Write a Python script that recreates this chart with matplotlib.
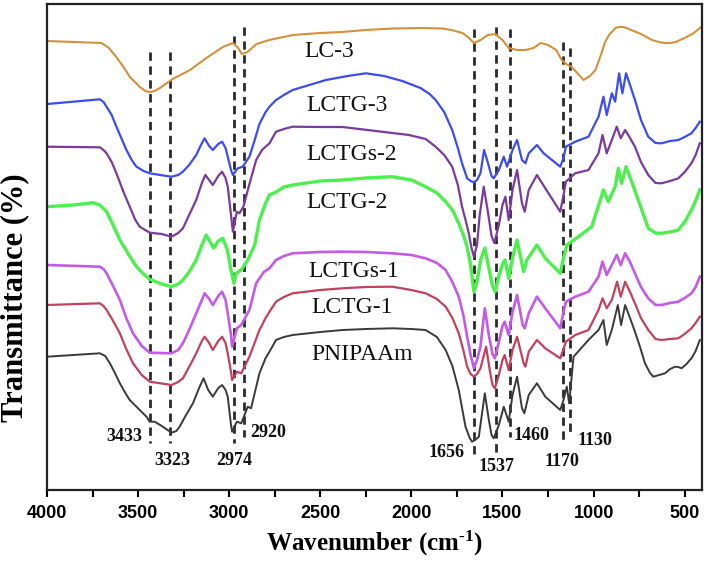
import matplotlib
matplotlib.use("Agg")
import matplotlib.pyplot as plt

# ---------------- data (offset transmittance, arbitrary units; larger = lower on chart) ----
lc3_w = [4000,3850,3700,3660,3620,3580,3545,3490,3460,3435,3410,3380,3310,3215,3125,3035,2980,2955,
         2930,2900,2850,2780,2650,2500,2380,2250,2100,1950,1830,1780,1720,1690,1657,1620,1580,1540,
         1500,1466,1420,1374,1330,1290,1250,1205,1175,1150,1120,1085,1055,1020,990,960,937,915,
         900,880,860,840,820,780,740,710,680,640,610,580,550,500,470,450,430,410]
lc3_y = [41,42,43,48,57,67,77,87,91,92,91,88,79,70,58,47,43,47,
         54,52,44,40,35,33,32,30,28.5,28,28.5,30,33,37,43,40,35,34,
         40,48,50,50,48,43,45,50,60,64,67,74,80,76,70,55,42,35,
         32,28,27,27,28,31,34,37,40,42,43,43,42,38,35,33,30,27]

lctg3_w = [4000,3856,3710,3690,3673,3645,3619,3590,3564,3535,3509,3470,3436,3380,3317,3280,3254,
           3220,3181,3155,3135,3110,3090,3060,3039,3020,3008,2990,2980,2953,2926,2889,2860,2834,
           2800,2779,2743,2700,2652,2560,2469,2350,2250,2150,2050,1950,1900,1867,1820,1776,1745,
           1722,1694,1675,1657,1640,1621,1601,1580,1560,1548,1520,1493,1475,1445,1420,1393,1374,
           1356,1311,1274,1183,1165,1152,1101,1028,973,946,928,900,882,860,842,822,800,773,740,
           700,660,627,580,535,500,463,440,417]
lctg3_y = [104,101.7,99.3,102,106.7,115,126.7,139,150,160,166.7,171,173.3,175,176.7,175,171.7,
           165,155,145,138.3,146,150,144,141.7,148,156.7,170,175,168.3,166.7,156.7,140,124,
           112,106.7,100,95,90,85,80,76,73.3,76,81,88,94,100,112,130,148,
           163.3,178.3,181,182.3,180,173.3,150,163,176,178.3,170,156.7,166.7,150,140,160,163.3,
           153.3,145,153.3,166.7,158,146.7,141.7,136.7,116.7,96.7,115,93.3,101.7,73.3,93.3,73.3,85,100,120,
           136.7,143,143.3,141,140,137,133.3,128,121.7]

lctgs2_w = [4000,3710,3690,3673,3645,3619,3580,3546,3515,3491,3436,3370,3317,3280,3254,3220,3181,
            3150,3131,3110,3090,3060,3039,3020,3008,2990,2980,2958,2944,2922,2893,2852,2820,2779,
            2743,2700,2652,2500,2378,2195,2013,1922,1867,1820,1776,1745,1722,1700,1685,1670,1657,
            1640,1625,1603,1580,1560,1545,1520,1500,1484,1466,1445,1420,1393,1378,1356,1311,1265,
            1183,1165,1152,1101,1028,973,951,928,900,873,851,827,800,773,740,700,660,627,580,535,
            500,463,440,417]
lctgs2_y = [146.7,147.3,150,153.3,162,173.3,192,206.7,220,226.7,232.7,234,236.7,233,228.3,215,200,
            183,175,180,185,176,171.7,178,186.7,215,231.7,211.7,213.3,206.7,186.7,160,150,143.3,
            131.7,129,126.7,127,127,131,135,139,146.7,155,166.7,185,206.7,222,233.3,248,256.7,
            245,215,186.7,212,236,243,225,205,196.7,220,190,170,203.3,211.7,190,175,188.3,
            211.7,195,181.7,173.3,170,153.3,135,153.3,140,126.7,138.3,130,138,146.7,162,175,183,183.3,181,178.3,
            172,163.3,155,143.3]

lctg2_w = [4000,3856,3747,3710,3673,3640,3600,3550,3509,3470,3436,3370,3317,3280,3254,3220,3181,
           3150,3126,3105,3085,3060,3035,3010,2990,2974,2962,2934,2898,2860,2834,2800,2779,2743,
           2700,2652,2500,2378,2250,2105,2000,1922,1860,1812,1775,1740,1715,1694,1675,1657,1640,
           1620,1597,1575,1555,1540,1520,1500,1486,1466,1445,1420,1384,1366,1311,1265,1183,1165,
           1147,1083,1010,946,919,882,864,846,822,790,755,720,700,660,627,580,535,500,463,440,417]
lctg2_y = [206.7,205,202.7,205,211.7,224,240,255,266.7,274,279.3,284,286.7,284,280,272,260,
           245,235,242,248,241,238.3,250,270,283.3,273.3,270,260,245,220,203,195,192,
           187,185,181,180,178,176.7,180,186.7,193,201.7,210,223.3,235,246.7,265,291.7,282,
           260,248,268,286,291.7,276,264,260,278.3,258,240,271.7,260,245,258.3,273.3,258,
           245,236.7,226.7,190,201.7,186.7,168.3,183.3,166.7,182,200,218,228.3,233,233.3,232,230,222,210,201,190]

lctgs1_w = [4000,3710,3690,3673,3640,3600,3565,3528,3480,3436,3317,3280,3254,3220,3181,3150,3135,
            3110,3090,3060,3039,3020,3008,2990,2984,2958,2934,2889,2852,2810,2779,2743,2700,2652,
            2500,2378,2250,2105,2000,1922,1860,1812,1775,1740,1715,1694,1675,1657,1640,1621,1597,
            1575,1555,1542,1520,1500,1488,1466,1445,1420,1389,1378,1356,1311,1265,1183,1165,1152,
            1101,1028,973,951,928,900,873,851,827,800,773,740,700,660,627,580,535,500,463,440,417]
lctgs1_y = [265,266.7,269,273.3,285,300,318,333.3,346,352.7,353.3,350,343.3,330,313.3,300,293.3,
            299,305,296,291.7,300,313.3,335,346.7,328.3,325,310,283.3,272,268.3,260,256,253.3,
            252,251.7,252,253.3,255,258.3,263,270,282,296.7,315,336.7,355,368.3,360,346.7,308.3,
            335,354,358.3,342,326,321.7,335,312,295,325,328.3,313.3,296.7,308.3,328.3,312,301.7,
            296.7,291.7,276.7,261.7,275,265,255,265,253.3,262,273.3,287,298.3,305,305,303,301.7,298,293.3,287,276.7]

lctg1_w = [4000,3710,3690,3673,3640,3600,3565,3528,3480,3436,3317,3280,3254,3220,3181,3150,3135,
           3110,3090,3060,3039,3020,3008,2990,2984,2958,2934,2889,2834,2800,2779,2743,2700,2652,
           2500,2378,2250,2105,2000,1922,1860,1812,1775,1740,1715,1694,1675,1657,1640,1621,1590,
           1570,1555,1542,1520,1500,1488,1466,1445,1420,1384,1374,1356,1311,1265,1183,1165,1152,
           1101,1028,973,951,928,900,871,851,827,800,773,740,700,660,627,580,535,500,463,440,417]
lctg1_y = [305,303.3,306,310,320,333.3,349,363.3,375,381.7,385,382,378.3,367,353.3,341,336.7,
           343,350,341,336.7,343,353.3,372,380,371.7,373.3,356.7,330,318,311.7,301.7,297,293.3,
           290,288.3,287,286.7,290,293.3,299,306.7,318,333.3,350,366.7,374,376.7,374,368.3,346.7,
           370,385,388.3,375,360,355,370,350,336.7,363.3,366.7,351.7,340,348.3,358.3,349,341.7,
           335,330,310,298.3,308.3,300,281.7,296.7,281.7,292,303.3,318,330,339,340,339,338.3,334,328.3,323,316.7]

pnipaam_w = [4000,3856,3710,3680,3655,3630,3600,3570,3546,3491,3454,3436,3409,3370,3317,3290,3272,
             3240,3199,3165,3141,3115,3090,3060,3039,3020,3008,2990,2984,2958,2934,2898,2880,2834,
             2800,2779,2743,2700,2652,2500,2378,2250,2105,2000,1922,1860,1812,1775,1740,1720,1703,
             1680,1667,1650,1630,1597,1575,1560,1548,1520,1493,1466,1445,1420,1393,1380,1356,1311,
             1265,1183,1165,1147,1134,1110,1028,973,946,928,900,867,849,827,800,773,745,718,690,
             672,640,608,580,553,535,517,490,463,440,417]
pnipaam_y = [356.7,355,353.3,356,363.3,372,383.3,393,400,410,416.7,421.7,421.7,426,432.7,431,426.7,
             416,403.3,388,378.3,390,396.7,388,385,390,396.7,425,431.7,421.7,423.3,406.7,408.3,373.3,
             358,351.7,340,337,335,332,330,329,328.3,329,330,337,350,366,390,410,426.7,
             438,441.7,440,436.7,393.3,420,435,438.3,425,406.7,421.7,395,376.7,408.3,413.3,395,383.3,
             396.7,410,400,386.7,403.3,356.7,340,330,320,345,330,305,325,305,318,331.7,347,363.3,373,
             376.7,375,373.3,369,366.7,367,368.3,364,358.3,351,340]

series_names = ["LC-3", "LCTG-3", "LCTGs-2", "LCTG-2", "LCTGs-1", "LCTG-1", "PNIPAAm"]
series_colors = ["#d4913c", "#3b4cf2", "#7b3a9c", "#4cf04c", "#c45ae8", "#c2415c", "#3a3a3a"]
series_widths = [1.5, 1.6, 1.6, 2.4, 1.9, 1.6, 1.4]
label_w = [2588, 2577, 2577, 2577, 2566, 2550, 2550]
label_y = [52, 106, 155, 203, 272, 308, 355]

peak_w = [3433, 3323, 2974, 2920, 1656, 1537, 1460, 1170, 1130]
peak_top = [52, 52, 36, 27, 29, 27, 29, 42, 48]
peak_bottom = [443, 443, 443, 437, 455, 452, 437, 442, 433]
peak_text_w = [3573, 3310, 2971, 2785, 1805, 1531, 1343, 1173, 992]
peak_text_y = [437, 461, 461, 433, 453, 467, 436, 462, 441]

xticks = [4000, 3500, 3000, 2500, 2000, 1500, 1000, 500]
xminor = [3750, 3250, 2750, 2250, 1750, 1250, 750]

# ---------------- plot ----------------
plt.rcParams['mathtext.fontset'] = 'custom'
plt.rcParams['mathtext.rm'] = 'Liberation Serif:bold'
plt.rcParams['mathtext.it'] = 'Liberation Serif:bold'
plt.rcParams['mathtext.bf'] = 'Liberation Serif:bold'

fig = plt.figure(figsize=(7.09, 5.65), dpi=100)
ax = fig.add_axes([47/709, 1-490/565, 655/709, 486/565])

series = [(lc3_w, lc3_y), (lctg3_w, lctg3_y), (lctgs2_w, lctgs2_y), (lctg2_w, lctg2_y),
          (lctgs1_w, lctgs1_y), (lctg1_w, lctg1_y), (pnipaam_w, pnipaam_y)]

ax.vlines(peak_w, peak_top, peak_bottom, colors="#2a2a2a", linewidth=2.0,
          linestyles=(0, (3.0, 2.0)), zorder=1)

for (w, y), name, c, lw in zip(series, series_names, series_colors, series_widths):
    ax.plot(w, y, color=c, lw=lw, zorder=2, solid_joinstyle='round')

for name, lw_, ly in zip(series_names, label_w, label_y):
    ax.text(lw_, ly, name, fontsize=17, family="Liberation Serif", ha="left", va="center",
            color="#111111")

for t, tw, ty in zip(peak_w, peak_text_w, peak_text_y):
    ax.text(tw, ty, str(t), fontsize=13, family="Liberation Serif", fontweight="bold",
            ha="center", va="center", color="#111111")

ax.set_xlim(4000, 405)
ax.set_ylim(490, 4)
ax.set_xticks(xticks)
ax.set_xticks(xminor, minor=True)
ax.set_yticks([])
ax.tick_params(axis="x", which="both", direction="out", length=5, width=1.5, pad=6,
               labelsize=13)
for lab in ax.get_xticklabels():
    lab.set_family("Liberation Sans")
    lab.set_fontweight("bold")
for s in ax.spines.values():
    s.set_linewidth(1.6)
    s.set_color("#222222")

ax.set_xlabel(r"Wavenumber (cm$^{\text{-1}}$)", fontsize=18, family="Liberation Serif",
              fontweight="bold", labelpad=5)
fig.text(15/709, 1-298/565, "Transmittance (%)", rotation=90, fontsize=22,
         family="Liberation Serif", fontweight="bold", ha="center", va="center")

fig.savefig("out.png", dpi=100)
